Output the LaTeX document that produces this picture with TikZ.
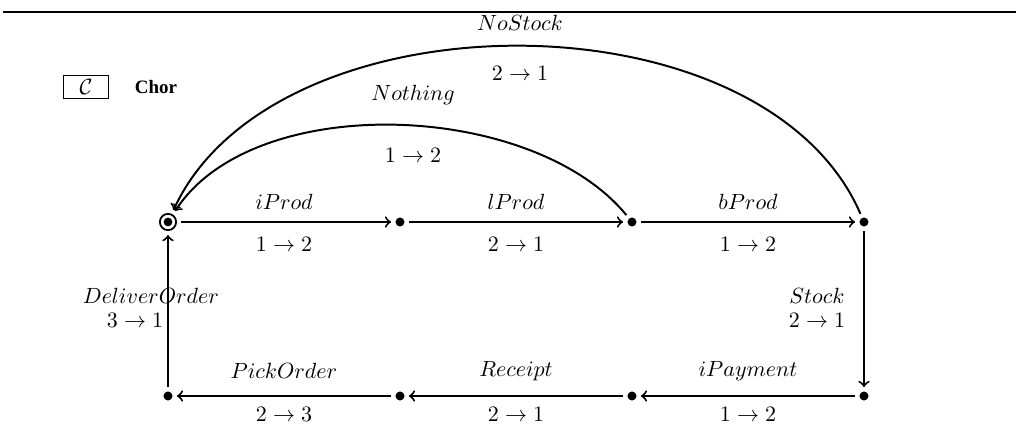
\documentclass[tikz,border=0pt]{standalone}
\usepackage{fontspec}
\newfontfamily\timesfont{Liberation Serif}
\begin{document}
\begin{tikzpicture}[x=0.4545pt,y=-0.4545pt,
  st/.style={circle,fill=black,inner sep=0pt,minimum size=4.1pt},
  init/.style={circle,draw,line width=0.8pt,inner sep=0pt,minimum size=7.4pt,
    path picture={\fill (path picture bounding box.center) circle (2.0pt);}},
  tr/.style={-{To[scale=1.15]},line width=0.9pt,shorten >=1.8pt,shorten <=1.8pt},
  lbl/.style={inner sep=0pt}]
\useasboundingbox (0,0) rectangle (1016,437);
\draw[line width=0.5pt] (3,12) -- (1016,12);
\node[draw,line width=0.5pt,minimum width=20.5pt,minimum height=10.5pt,inner sep=0pt] (cbox) at (86,87) {$\mathcal{C}$};
\node[lbl] (chor) at (156,87) {\fontsize{8.6}{10}\timesfont\bfseries Chor};
\node[init] (a1) at (168,222) {};
\node[st] (a2) at (400,222) {};
\node[st] (a3) at (632,222) {};
\node[st] (a4) at (864,222) {};
\node[st] (b1) at (168,396) {};
\node[st] (b2) at (400,396) {};
\node[st] (b3) at (632,396) {};
\node[st] (b4) at (864,396) {};
\draw[tr] (a1) -- (a2);
\draw[tr] (a2) -- (a3);
\draw[tr] (a3) -- (a4);
\draw[tr] (a4) -- (b4);
\draw[tr] (b4) -- (b3);
\draw[tr] (b3) -- (b2);
\draw[tr] (b2) -- (b1);
\draw[tr] (b1) -- (a1);
\draw[tr] (a3) .. controls (533,101) and (254,90) .. (a1);
\draw[tr] (a4) .. controls (763,-11) and (274,-8) .. (a1);
\node[lbl] (l1) at (284,202) {$iProd$};
\node[lbl] (m1) at (284,244) {$1\rightarrow 2$};
\node[lbl] (l2) at (516,202) {$lProd$};
\node[lbl] (m2) at (516,244) {$2\rightarrow 1$};
\node[lbl] (l3) at (748,202) {$bProd$};
\node[lbl] (m3) at (748,244) {$1\rightarrow 2$};
\node[lbl] (l4) at (817,296) {$Stock$};
\node[lbl] (m4) at (817,320) {$2\rightarrow 1$};
\node[lbl] (l5) at (748,371) {$iPayment$};
\node[lbl] (m5) at (748,414) {$1\rightarrow 2$};
\node[lbl] (l6) at (516,371) {$Receipt$};
\node[lbl] (m6) at (516,414) {$2\rightarrow 1$};
\node[lbl] (l7) at (284,371) {$PickOrder$};
\node[lbl] (m7) at (284,414) {$2\rightarrow 3$};
\node[lbl] (l8) at (151,296) {$DeliverOrder$};
\node[lbl] (m8) at (135,320) {$3\rightarrow 1$};
\node[lbl] (l9) at (413,95) {$Nothing$};
\node[lbl] (m9) at (413,155) {$1\rightarrow 2$};
\node[lbl] (l10) at (520,23) {$NoStock$};
\node[lbl] (m10) at (520,73) {$2\rightarrow 1$};
\end{tikzpicture}
\end{document}
